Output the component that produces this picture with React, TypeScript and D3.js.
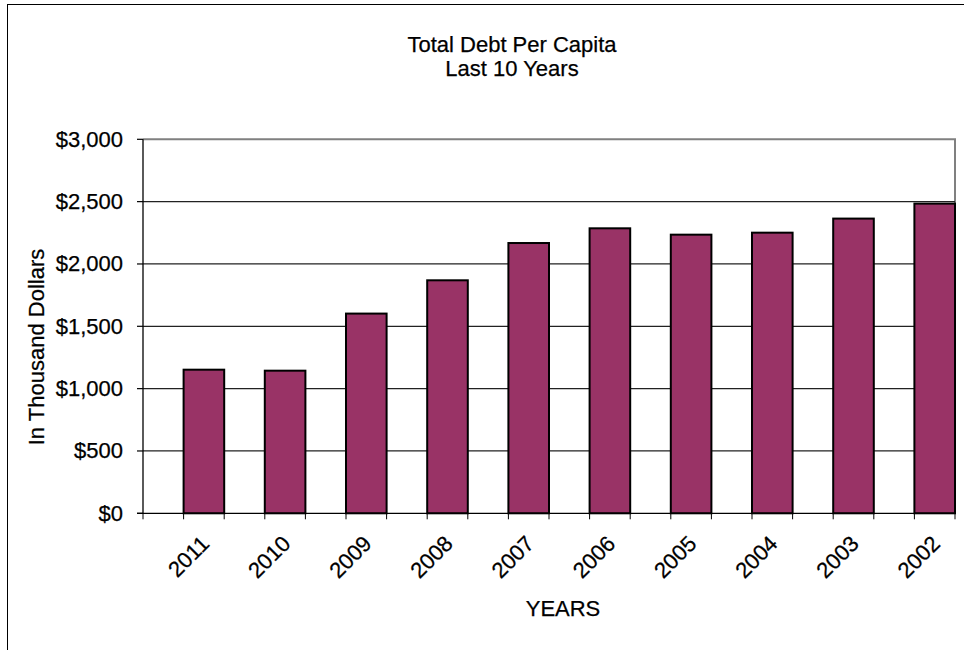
import React from "react";
import * as d3 from "d3";

const years = ["2011", "2010", "2009", "2008", "2007", "2006", "2005", "2004", "2003", "2002"];
const debtPerCapita = [1152, 1144, 1602, 1869, 2168, 2286, 2235, 2251, 2364, 2484];
const yTicks = [0, 500, 1000, 1500, 2000, 2500, 3000];
const titleLines = ["Total Debt Per Capita", "Last 10 Years"];

const W = 964;
const H = 650;
const plot = { left: 143, right: 955, top: 139.3, bottom: 513.3 };
const FONT = "'Liberation Sans', Arial, sans-serif";
const FS = 22;

export default function App() {
  const x = d3.scaleBand<string>().domain(years).range([plot.left, plot.right]).paddingInner(0).paddingOuter(0);
  const y = d3.scaleLinear().domain([0, 3000]).range([plot.bottom, plot.top]);
  const bw = x.bandwidth();
  const fmt = (v: number) => "$" + d3.format(",")(v);

  const halfTicks: number[] = [];
  for (let i = 0; i <= years.length * 2; i++) halfTicks.push(plot.left + (i * bw) / 2);

  const txt = { fill: "#000", stroke: "#000", strokeWidth: 0.25, fontSize: FS };

  return (
    <svg width={W} height={H} style={{ position: "absolute", left: 0, top: 0, display: "block" }} fontFamily={FONT}>
      <rect x={0} y={0} width={W} height={H} fill="#fff" />
      <rect x={7.5} y={4.5} width={W + 20} height={H + 20} fill="none" stroke="#000" strokeWidth={1} />

      {titleLines.map((t, i) => (
        <text key={t} x={512} y={52 + i * 24} textAnchor="middle" {...txt}>
          {t}
        </text>
      ))}

      <path
        d={`M${plot.left},${plot.top}H${plot.right}V${plot.bottom}`}
        fill="none"
        stroke="#808080"
        strokeWidth={2}
      />

      {yTicks.slice(1, -1).map((t) => (
        <line key={t} x1={plot.left} x2={plot.right} y1={y(t)} y2={y(t)} stroke="#222" strokeWidth={1.2} />
      ))}

      {years.map((yr, i) => (
        <rect
          key={yr}
          x={(x(yr) as number) + bw / 2}
          y={y(debtPerCapita[i])}
          width={bw / 2}
          height={plot.bottom - y(debtPerCapita[i])}
          fill="#993366"
          stroke="#000"
          strokeWidth={2}
        />
      ))}

      <line x1={plot.left} x2={plot.left} y1={plot.top} y2={plot.bottom} stroke="#000" strokeWidth={1.3} />
      <line x1={plot.left - 6} x2={plot.right} y1={plot.bottom} y2={plot.bottom} stroke="#000" strokeWidth={1.3} />
      {yTicks.map((t) => (
        <g key={t}>
          <line x1={plot.left - 6} x2={plot.left} y1={y(t)} y2={y(t)} stroke="#000" strokeWidth={1.2} />
          <text x={123} y={y(t) + 7.5} textAnchor="end" {...txt}>
            {fmt(t)}
          </text>
        </g>
      ))}
      {halfTicks.map((tx, i) => (
        <line key={i} x1={tx} x2={tx} y1={plot.bottom} y2={plot.bottom + 6} stroke="#000" strokeWidth={1} />
      ))}
      {years.map((yr) => {
        const cx = (x(yr) as number) + bw / 2 + 27;
        const cy = 545;
        return (
          <text key={yr} x={cx} y={cy} textAnchor="end" {...txt} transform={`rotate(-45 ${cx} ${cy})`}>
            {yr}
          </text>
        );
      })}

      <text x={563} y={616} textAnchor="middle" {...txt}>
        YEARS
      </text>
      <text x={44} y={347} textAnchor="middle" {...txt} transform="rotate(-90 44 347)">
        In Thousand Dollars
      </text>
    </svg>
  );
}
